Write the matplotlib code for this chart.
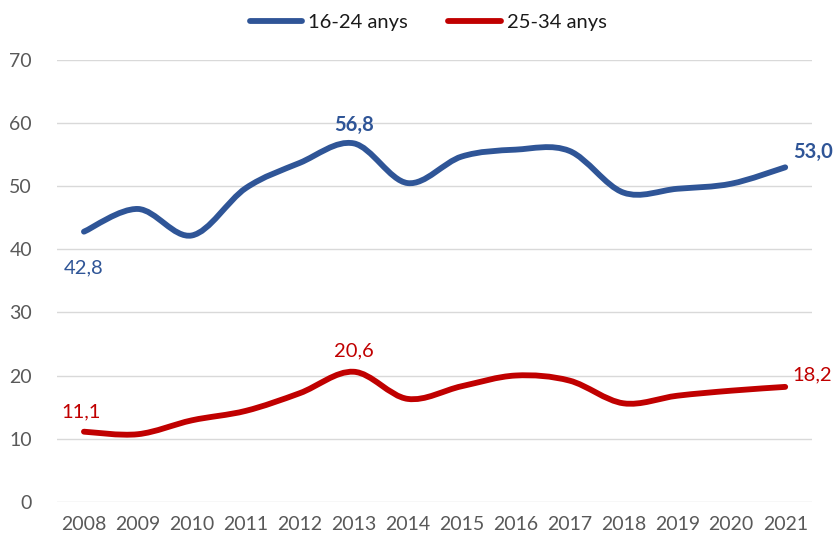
import numpy as np
import matplotlib.pyplot as plt
from matplotlib.path import Path
from matplotlib.patches import PathPatch
from matplotlib.lines import Line2D

plt.rcParams['font.family'] = ['Lato', 'DejaVu Sans']

years = [str(y) for y in range(2008, 2022)]
young = [42.8, 46.4, 42.2, 49.7, 53.7, 56.8, 50.5, 54.7, 55.8, 55.6, 49.0, 49.6, 50.4, 53.0]
adult = [11.1, 10.7, 12.9, 14.4, 17.2, 20.6, 16.3, 18.3, 20.0, 19.2, 15.6, 16.8, 17.6, 18.2]

blue = '#2F5597'
red = '#C00000'
grey = '#595959'


#smooth curve through the points, bezier segments like a spreadsheet "smoothed line"
def smooth_path(xs, ys):
    pts = np.column_stack([xs, ys]).astype(float)
    n = len(pts)
    verts = [pts[0]]
    codes = [Path.MOVETO]
    for i in range(n - 1):
        p0 = pts[i - 1] if i > 0 else pts[i]
        p1 = pts[i]
        p2 = pts[i + 1]
        p3 = pts[i + 2] if i + 2 < n else pts[i + 1]
        c1 = p1 + (p2 - p0) / 6
        c2 = p2 - (p3 - p1) / 6
        verts += [c1, c2, p2]
        codes += [Path.CURVE4] * 3
    return Path(verts, codes)


def fmt(v):
    return f'{v:.1f}'.replace('.', ',')


fig = plt.figure(figsize=(8.33, 5.41), dpi=100)
ax = fig.add_axes([0.0684, 0.0726, 0.9066, 0.8164])

x = np.arange(len(years))
for vals, col in [(young, blue), (adult, red)]:
    patch = PathPatch(smooth_path(x, vals), facecolor='none', edgecolor=col,
                      lw=4.2, capstyle='round', joinstyle='round', zorder=3)
    ax.add_patch(patch)

ax.set_xlim(-0.5, len(years) - 0.5)
ax.set_ylim(0, 70)
ax.set_yticks(range(0, 71, 10))
ax.set_xticks(x)
ax.set_xticklabels(years)
ax.tick_params(length=0, labelsize=14, colors=grey, pad=10)
ax.tick_params(axis='y', pad=18)
ax.grid(axis='y', color='#D9D9D9', lw=1)
ax.set_axisbelow(True)
for s in ax.spines.values():
    s.set_visible(False)

#value labels at start, peak and end
ax.annotate(fmt(young[0]), (0, young[0]), xytext=(0, -26),
            textcoords='offset points', ha='center', va='center', color=blue, fontsize=14.5)
ax.annotate(fmt(young[5]), (5, young[5]), xytext=(0, 13),
            textcoords='offset points', ha='center', va='center', color=blue, fontsize=14.5,
            fontweight='bold')
ax.annotate(fmt(young[-1]), (13, young[-1]), xytext=(6, 11),
            textcoords='offset points', ha='left', va='center', color=blue, fontsize=14.5,
            fontweight='bold')
ax.annotate(fmt(adult[0]), (0, adult[0]), xytext=(-2, 14),
            textcoords='offset points', ha='center', va='center', color=red, fontsize=14.5)
ax.annotate(fmt(adult[5]), (5, adult[5]), xytext=(0, 15),
            textcoords='offset points', ha='center', va='center', color=red, fontsize=14.5)
ax.annotate(fmt(adult[-1]), (13, adult[-1]), xytext=(5, 9),
            textcoords='offset points', ha='left', va='center', color=red, fontsize=14.5)

handles = [Line2D([], [], color=blue, lw=4.2, solid_capstyle='round'),
           Line2D([], [], color=red, lw=4.2, solid_capstyle='round')]
leg = fig.legend(handles, ['16-24 anys', '25-34 anys'], loc='center',
                 bbox_to_anchor=(0.514, 0.958), ncol=2, frameon=False, fontsize=14.5,
                 handlelength=2.6, handletextpad=0.3, columnspacing=2.0)
for t in leg.get_texts():
    t.set_color('#1a1a1a')

fig.savefig('out.png', dpi=100)
